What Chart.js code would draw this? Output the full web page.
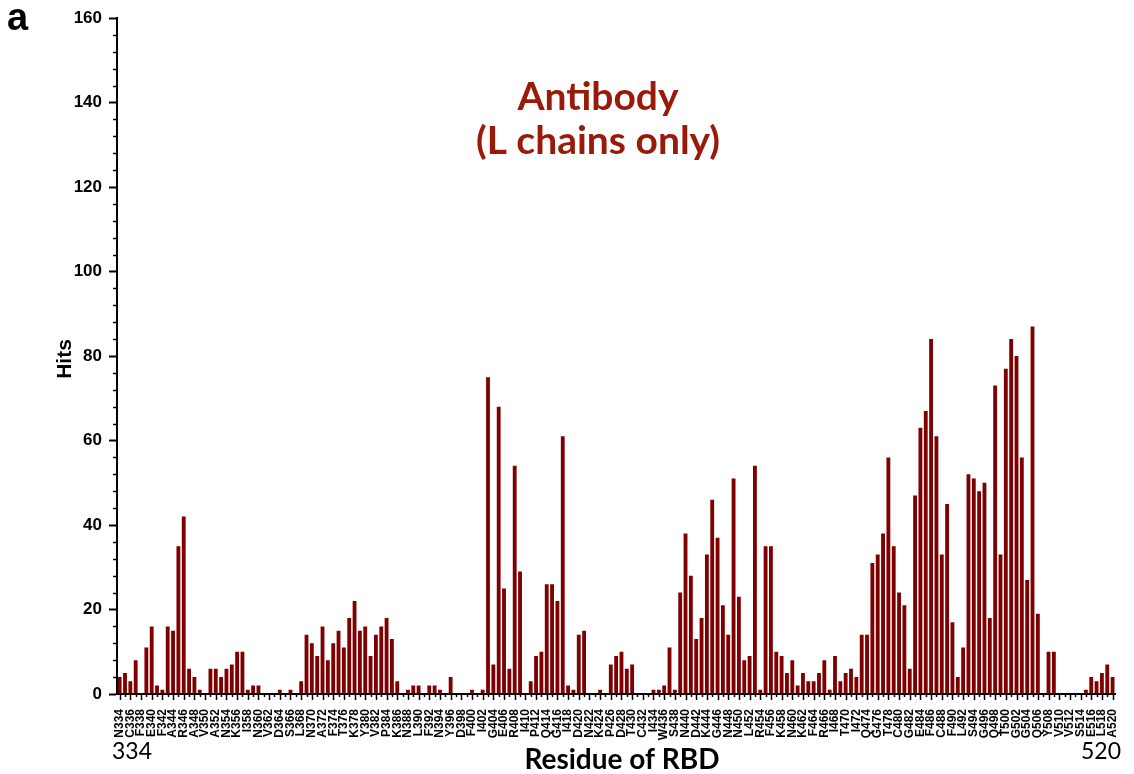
<!DOCTYPE html>
<html>
<head>
<meta charset="utf-8">
<script src="https://cdn.jsdelivr.net/npm/chart.js@4/dist/chart.umd.min.js"></script>
<style>
  body { margin: 0; background: #fff; }
  #wrap { width: 1134px; height: 774px; }
</style>
</head>
<body>
<div id="wrap"><canvas id="rbd-chart" width="1134" height="774"></canvas></div>
<script>
// hits per RBD residue, 334 .. 520
const firstResidue = 334;
const lastResidue = 520;
const hits = [
  4, 5, 3, 8, 0, 11, 16, 2, 1, 16, 15, 35, 42, 6, 4, 1, 0, 6, 6, 4,      // 334-353
  6, 7, 10, 10, 1, 2, 2, 0, 0, 0, 1, 0, 1, 0, 3, 14, 12, 9, 16, 8,       // 354-373
  12, 15, 11, 18, 22, 15, 16, 9, 14, 16, 18, 13, 3, 0, 1, 2, 2, 0, 2, 2, // 374-393
  1, 0, 4, 0, 0, 0, 1, 0, 1, 75, 7, 68, 25, 6, 54, 29, 0, 3, 9, 10,      // 394-413
  26, 26, 22, 61, 2, 1, 14, 15, 0, 0, 1, 0, 7, 9, 10, 6, 7, 0, 0, 0,     // 414-433
  1, 1, 2, 11, 1, 24, 38, 28, 13, 18, 33, 46, 37, 21, 14, 51, 23, 8, 9, 54, // 434-453
  1, 35, 35, 10, 9, 5, 8, 2, 5, 3, 3, 5, 8, 1, 9, 3, 5, 6, 4, 14,        // 454-473
  14, 31, 33, 38, 56, 35, 24, 21, 6, 47, 63, 67, 84, 61, 33, 45, 17, 4, 11, 52, // 474-493
  51, 48, 50, 18, 73, 33, 77, 84, 80, 56, 27, 87, 19, 0, 10, 10, 0, 0, 0, 0, // 494-513
  0, 1, 4, 3, 5, 7, 4                                                     // 514-520
];
// labels shown under every other residue (even numbers)
const tickLabels = [
  'N334', 'C336', 'F338', 'E340', 'F342', 'A344', 'R346', 'A348', 'V350', 'A352',
  'N354', 'K356', 'I358', 'N360', 'V362', 'D364', 'S366', 'L368', 'N370', 'A372',
  'F374', 'T376', 'K378', 'Y380', 'V382', 'P384', 'K386', 'N388', 'L390', 'F392',
  'N394', 'Y396', 'D398', 'F400', 'I402', 'G404', 'E406', 'R408', 'I410', 'P412',
  'Q414', 'G416', 'I418', 'D420', 'N422', 'K424', 'P426', 'D428', 'T430', 'C432',
  'I434', 'W436', 'S438', 'N440', 'D442', 'K444', 'G446', 'N448', 'N450', 'L452',
  'R454', 'F456', 'K458', 'N460', 'K462', 'F464', 'R466', 'I468', 'T470', 'I472',
  'Q474', 'G476', 'T478', 'C480', 'G482', 'E484', 'F486', 'C488', 'F490', 'L492',
  'S494', 'G496', 'Q498', 'T500', 'G502', 'G504', 'Q506', 'Y508', 'V510', 'V512',
  'S514', 'E516', 'L518', 'A520'
];
const yTicks = [0, 20, 40, 60, 80, 100, 120, 140, 160];

const labels = hits.map((v, i) => (i % 2 === 0 ? tickLabels[i / 2] : ''));

// extra drawing: minor ticks, residue ticks, title texts
const extras = {
  id: 'extras',
  afterDraw(chart) {
    const { ctx, scales: { x, y } } = chart;
    ctx.save();
    ctx.strokeStyle = '#000';
    ctx.lineWidth = 1.5;
    // minor y ticks every 4
    for (let v = 0; v <= yTicks[yTicks.length - 1]; v += 4) {
      if (v % 20 === 0) continue;
      const py = Math.round(y.getPixelForValue(v)) + 0.5;
      ctx.beginPath();
      ctx.moveTo(x.left - 4, py);
      ctx.lineTo(x.left, py);
      ctx.stroke();
    }
    // residue ticks, long under labelled residues
    for (let i = 0; i < hits.length; i++) {
      const px = Math.round(x.getPixelForValue(i)) + 0.5;
      ctx.beginPath();
      ctx.moveTo(px, y.bottom);
      ctx.lineTo(px, y.bottom + (i % 2 === 0 ? 6 : 3));
      ctx.stroke();
    }

    ctx.fillStyle = '#000';
    ctx.textBaseline = 'alphabetic';
    ctx.font = 'bold 38px "Liberation Sans", Arial';
    ctx.textAlign = 'left';
    ctx.fillText('a', 7, 30);

    ctx.font = '23px Lato, "Open Sans", sans-serif';
    ctx.fillText(String(firstResidue), 112, 759);
    ctx.textAlign = 'right';
    ctx.fillText(String(lastResidue), 1121, 759);

    ctx.textAlign = 'center';
    ctx.font = 'bold 28px Lato, "Open Sans", sans-serif';
    ctx.fillText('Residue of RBD', 622, 769);

    ctx.save();
    ctx.translate(71, 359);
    ctx.rotate(-Math.PI / 2);
    ctx.font = 'bold 21px "Liberation Sans", Arial';
    ctx.fillText('Hits', 0, 0);
    ctx.restore();

    ctx.fillStyle = '#9a1a0a';
    ctx.font = 'bold 39px Lato, "Open Sans", sans-serif';
    ctx.fillText('Antibody', 598, 110);
    ctx.fillText('(L chains only)', 598, 154);
    ctx.restore();
  }
};

new Chart(document.getElementById('rbd-chart').getContext('2d'), {
  type: 'bar',
  data: {
    labels: labels,
    datasets: [{
      label: 'Hits',
      data: hits,
      backgroundColor: '#7e0000',
      borderWidth: 0,
      categoryPercentage: 1.0,
      barPercentage: 0.72
    }]
  },
  options: {
    responsive: false,
    animation: false,
    layout: { padding: { top: 18, right: 4, left: 0, bottom: 0 } },
    plugins: {
      legend: { display: false },
      tooltip: { enabled: false }
    },
    scales: {
      x: {
        afterFit: (scale) => { scale.height = 80; },
        grid: { display: false },
        border: { display: true, color: '#000', width: 2 },
        ticks: {
          autoSkip: false,
          minRotation: 90,
          maxRotation: 90,
          padding: 7,
          color: '#000',
          font: { family: '"Liberation Sans", Arial', size: 12, weight: 'bold' }
        }
      },
      y: {
        min: 0,
        max: 160,
        afterFit: (scale) => { scale.width = 117; },
        afterBuildTicks: (scale) => { scale.ticks = yTicks.map(v => ({ value: v })); },
        grid: { display: true, drawOnChartArea: false, tickLength: 8, tickColor: '#000', tickWidth: 2 },
        border: { display: true, color: '#000', width: 2 },
        ticks: {
          padding: 7,
          color: '#000',
          font: { family: '"Liberation Sans", Arial', size: 17, weight: 'bold' }
        }
      }
    }
  },
  plugins: [extras]
});
</script>
</body>
</html>
